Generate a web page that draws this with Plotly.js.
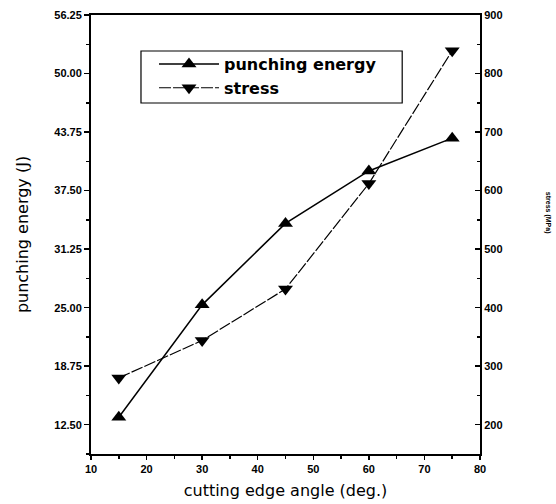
<!DOCTYPE html>
<html>
<head>
<meta charset="utf-8">
<script src="https://cdn.plot.ly/plotly-3.0.1.min.js"></script>
<style>html,body{margin:0;padding:0;background:#fff;}#chart{width:556px;height:504px;}</style>
</head>
<body>
<div id="chart"></div>
<script>
const angles = [15, 30, 45, 60, 75];
const punchingEnergy = [13.3, 25.3, 34.0, 39.6, 43.1];
const stress = [280, 344, 432, 612, 839];
const leftTicks = [12.5, 18.75, 25, 31.25, 37.5, 43.75, 50, 56.25];
const rightTicks = [200, 300, 400, 500, 600, 700, 800, 900];
const xTicks = [10, 20, 30, 40, 50, 60, 70, 80];

const tickFont = {family: 'Liberation Sans, Arial, sans-serif', size: 11, color: '#000', weight: 'bold'};
const titleFont = {family: 'DejaVu Sans, sans-serif', size: 16, color: '#000'};

const traces = [
  {
    x: angles, y: punchingEnergy, name: 'punching energy', type: 'scatter', mode: 'lines+markers',
    line: {color: '#000', width: 1.5},
    marker: {symbol: 'triangle-up', size: 13, color: '#000'},
    yaxis: 'y'
  },
  {
    x: angles, y: stress, name: 'stress', type: 'scatter', mode: 'lines+markers',
    line: {color: '#000', width: 1.2, dash: '12px,2px'},
    marker: {symbol: 'triangle-down', size: 13, color: '#000'},
    yaxis: 'y2'
  }
];

const layout = {
  width: 556, height: 504,
  margin: {l: 91, r: 76, t: 15, b: 50},
  paper_bgcolor: '#fff', plot_bgcolor: '#fff',
  showlegend: true,
  legend: {
    x: 0.162, y: 0.927, xanchor: 'left', yanchor: 'top',
    borderwidth: 0, bgcolor: 'rgba(0,0,0,0)',
    font: {family: 'DejaVu Sans, sans-serif', size: 16, color: '#000', weight: 'bold'},
    tracegroupgap: 0, itemwidth: 60
  },
  shapes: [{
    type: 'rect', xref: 'paper', yref: 'paper',
    x0: 0.1285, x1: 0.8, y0: 0.7995, y1: 0.918,
    line: {color: '#000', width: 1.2}, fillcolor: 'rgba(0,0,0,0)', layer: 'below'
  }],
  xaxis: {
    range: [10, 80], tickvals: xTicks, ticktext: xTicks.map(String),
    showgrid: false, zeroline: false,
    showline: true, linecolor: '#000', linewidth: 2, mirror: true,
    ticks: 'outside', ticklen: 4, tickwidth: 1.5, tickcolor: '#000',
    minor: {dtick: 5, tick0: 15, ticks: 'outside', ticklen: 3, tickcolor: '#000'},
    tickfont: tickFont,
    title: {text: 'cutting edge angle (deg.)', font: titleFont, standoff: 11}
  },
  yaxis: {
    range: [9.375, 56.25], tickvals: leftTicks, ticktext: leftTicks.map(v => v.toFixed(2)),
    showgrid: false, zeroline: false,
    showline: true, linecolor: '#000', linewidth: 2,
    ticks: 'outside', ticklen: 5, tickwidth: 1.5, tickcolor: '#000',
    minor: {dtick: 3.125, tick0: 12.5, ticks: 'outside', ticklen: 3, tickcolor: '#000'},
    tickfont: tickFont,
    title: {text: 'punching energy (J)', font: titleFont, standoff: 22}
  },
  yaxis2: {
    overlaying: 'y', side: 'right',
    range: [150, 900], tickvals: rightTicks, ticktext: rightTicks.map(String),
    showgrid: false, zeroline: false,
    showline: true, linecolor: '#000', linewidth: 2,
    ticks: 'inside', ticklen: 5, tickwidth: 1.5, tickcolor: '#000',
    minor: {dtick: 50, tick0: 200, ticks: 'inside', ticklen: 3, tickcolor: '#000'},
    tickfont: tickFont
  },
  annotations: [{
    text: 'stress (MPa)', xref: 'paper', yref: 'paper', x: 1.192, y: 0.55,
    showarrow: false, textangle: 90,
    font: {family: 'Liberation Sans, Arial, sans-serif', size: 7, color: '#000', weight: 'bold'}
  }]
};

Plotly.newPlot('chart', traces, layout, {displayModeBar: false, staticPlot: true});
</script>
</body>
</html>
